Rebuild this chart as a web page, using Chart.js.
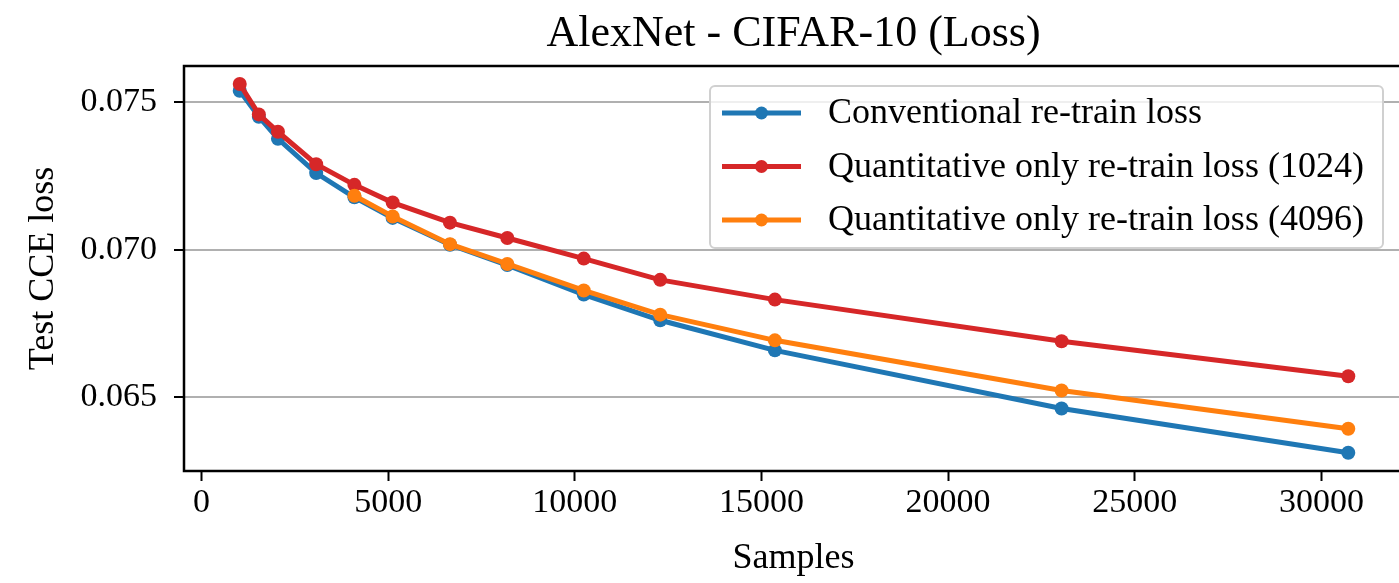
<!DOCTYPE html>
<html>
<head>
<meta charset="utf-8">
<script src="https://cdn.jsdelivr.net/npm/chart.js@4.4.1/dist/chart.umd.min.js"></script>
<style>
  html, body { margin: 0; padding: 0; background: #fff; overflow: hidden; }
  #wrap { position: relative; width: 1420px; height: 583px; }
</style>
</head>
<body>
<div id="wrap"><canvas id="c"></canvas></div>
<script>
// ---- data ----
const samples = [1024, 1536, 2048, 3072, 4096, 5120, 6656, 8192, 10240, 12288, 15360, 23040, 30720];
const conventionalLoss = [0.07539, 0.07451, 0.07376, 0.07260, 0.07178, 0.07108, 0.07017, 0.06948, 0.06848, 0.06761, 0.06659, 0.06462, 0.06312];
const quant1024Loss = [0.07562, 0.07459, 0.07400, 0.07290, 0.07220, 0.07160, 0.07092, 0.07040, 0.06970, 0.06898, 0.06831, 0.06690, 0.06571];
const quant4096Loss = [null, null, null, null, 0.07183, 0.07113, 0.07019, 0.06952, 0.06862, 0.06780, 0.06693, 0.06523, 0.06393];
const seriesLabels = ['Conventional re-train loss', 'Quantitative only re-train loss (1024)', 'Quantitative only re-train loss (4096)'];
const xTicks = [0, 5000, 10000, 15000, 20000, 25000, 30000];
const xTickLabels = ['0', '5000', '10000', '15000', '20000', '25000', '30000'];
const yTicks = [0.065, 0.070, 0.075];
const yTickLabels = ['0.065', '0.070', '0.075'];
const titleText = 'AlexNet - CIFAR-10 (Loss)';
const xTitle = 'Samples';
const yTitle = 'Test CCE loss';

const FONT = "'Liberation Serif', 'Times New Roman', serif";
const colors = ['#1f77b4', '#d62728', '#ff7f0e'];

function pts(vals) { return samples.map((x, i) => ({ x: x, y: vals[i] })); }

const mk = (label, vals, color, order) => ({
  label: label,
  data: pts(vals),
  borderColor: color,
  backgroundColor: color,
  pointBackgroundColor: color,
  pointBorderColor: color,
  pointBorderWidth: 0,
  pointRadius: 7,
  pointHoverRadius: 7,
  borderWidth: 5,
  tension: 0,
  fill: false,
  order: order
});

const framePlugin = {
  id: 'frame',
  beforeDatasetsDraw(chart) {
    const { ctx, chartArea: a } = chart;
    ctx.save();
    ctx.strokeStyle = '#000';
    ctx.lineWidth = 2.5;
    ctx.strokeRect(a.left, a.top, a.right - a.left, a.bottom - a.top);
    ctx.restore();
  }
};

const titlePlugin = {
  id: 'axesTitle',
  afterDraw(chart) {
    const { ctx, chartArea: a } = chart;
    ctx.save();
    ctx.font = '44px ' + FONT;
    ctx.fillStyle = '#000';
    ctx.textAlign = 'center';
    ctx.textBaseline = 'alphabetic';
    ctx.fillText(titleText, (a.left + a.right) / 2, a.top - 20);
    ctx.restore();
  }
};

const legendPlugin = {
  id: 'mplLegend',
  afterDraw(chart) {
    const ctx = chart.ctx;
    const box = { x: 710, y: 86, w: 673, h: 162, r: 5 };
    ctx.save();
    ctx.beginPath();
    ctx.roundRect(box.x, box.y, box.w, box.h, box.r);
    ctx.fillStyle = 'rgba(255,255,255,0.8)';
    ctx.fill();
    ctx.strokeStyle = '#d0d0d0';
    ctx.lineWidth = 2;
    ctx.stroke();
    const rows = [113, 166.5, 220];
    ctx.font = '36px ' + FONT;
    ctx.textBaseline = 'middle';
    ctx.textAlign = 'left';
    chart.data.datasets.forEach((ds, i) => {
      const y = rows[i];
      ctx.strokeStyle = ds.borderColor;
      ctx.lineWidth = 5;
      ctx.beginPath();
      ctx.moveTo(722, y);
      ctx.lineTo(801, y);
      ctx.stroke();
      ctx.fillStyle = ds.borderColor;
      ctx.beginPath();
      ctx.arc(761.5, y, 6.5, 0, Math.PI * 2);
      ctx.fill();
      ctx.fillStyle = '#000';
      ctx.fillText(ds.label, 828, y + 1);
    });
    ctx.restore();
  }
};

new Chart(document.getElementById('c'), {
  type: 'line',
  data: {
    datasets: [
      mk(seriesLabels[0], conventionalLoss, colors[0], 3),
      mk(seriesLabels[1], quant1024Loss, colors[1], 2),
      mk(seriesLabels[2], quant4096Loss, colors[2], 1)
    ]
  },
  options: {
    responsive: true,
    maintainAspectRatio: false,
    animation: false,
    layout: { padding: { left: 0, right: 17, top: 66, bottom: 0 } },
    plugins: {
      legend: { display: false },
      tooltip: { enabled: false },
      title: { display: false }
    },
    scales: {
      x: {
        type: 'linear',
        min: -469,
        max: 32186,
        afterBuildTicks: (s) => { s.ticks = xTicks.map(v => ({ value: v })); },
        afterFit: (s) => { s.height = 112; },
        border: { display: false },
        grid: { drawOnChartArea: false, drawTicks: true, tickLength: 10, tickColor: '#000', tickWidth: 2 },
        ticks: {
          color: '#000',
          font: { family: FONT, size: 34 },
          padding: 2,
          maxRotation: 0,
          autoSkip: false,
          callback: (v, i) => xTickLabels[i]
        },
        title: {
          display: true,
          text: xTitle,
          color: '#000',
          font: { family: FONT, size: 36 },
          padding: { top: 0, bottom: 3 }
        }
      },
      y: {
        type: 'linear',
        min: 0.0625,
        max: 0.07623,
        afterBuildTicks: (s) => { s.ticks = yTicks.map(v => ({ value: v })); },
        afterFit: (s) => { s.width = 184; },
        border: { display: false },
        grid: { color: '#b0b0b0', lineWidth: 2, drawTicks: true, tickLength: 10, tickColor: '#000', tickWidth: 2 },
        ticks: {
          color: '#000',
          font: { family: FONT, size: 34 },
          padding: 17,
          autoSkip: false,
          callback: (v, i) => yTickLabels[i]
        },
        title: {
          display: true,
          text: yTitle,
          color: '#000',
          font: { family: FONT, size: 36 },
          padding: { top: 22, bottom: 0 }
        }
      }
    }
  },
  plugins: [framePlugin, titlePlugin, legendPlugin]
});
</script>
</body>
</html>
